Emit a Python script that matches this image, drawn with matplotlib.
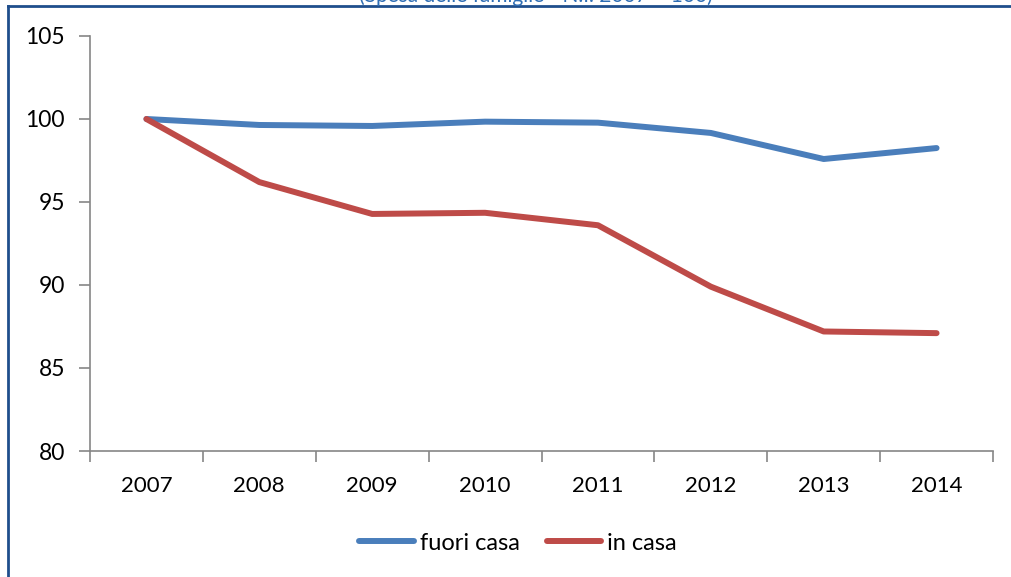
import matplotlib
matplotlib.use("Agg")
import matplotlib.pyplot as plt
from matplotlib.lines import Line2D

years = ["2007", "2008", "2009", "2010", "2011", "2012", "2013", "2014"]
fuori_casa = [100.0, 99.64, 99.58, 99.84, 99.78, 99.16, 97.59, 98.25]
in_casa = [100.0, 96.2, 94.28, 94.35, 93.6, 89.9, 87.2, 87.1]
y_ticks = [80, 85, 90, 95, 100, 105]
title = "(Spesa delle famiglie - N.I. 2007 = 100)"

plt.rcParams['font.family'] = ['Lato', 'DejaVu Sans']

W, H = 1011, 577
fig = plt.figure(figsize=(W / 100, H / 100), dpi=100)
ax = fig.add_axes([90 / W, 1 - 451 / H, (993 - 90) / W, (451 - 36) / H])

blue = "#4A7EBB"
red = "#BE4B48"
xs = [i + 0.5 for i in range(len(years))]
ax.plot(xs, fuori_casa, color=blue, lw=4.3, solid_capstyle='round', solid_joinstyle='round', label="fuori casa")
ax.plot(xs, in_casa, color=red, lw=4.3, solid_capstyle='round', solid_joinstyle='round', label="in casa")

ax.set_xlim(0, len(years))
ax.set_ylim(80, 105)
ax.set_yticks(y_ticks)
ax.set_yticklabels([str(v) for v in y_ticks], fontsize=16.5)
ax.set_xticks(range(len(years) + 1))
ax.set_xticklabels([])
ax.set_xticks(xs, minor=True)
ax.set_xticklabels(years, minor=True, fontsize=16)
ax.tick_params(axis='x', which='minor', length=0, pad=18)
ax.tick_params(axis='x', which='major', length=8, color="#868686", width=1.2, direction='out')
ax.tick_params(axis='y', length=8, color="#868686", width=1.2, direction='out', pad=10)
for s in ['top', 'right']:
    ax.spines[s].set_visible(False)
for s in ['left', 'bottom']:
    ax.spines[s].set_color("#868686")
    ax.spines[s].set_linewidth(1.2)

leg = ax.legend(loc='center', bbox_to_anchor=((518 - 90) / 903, (451 - 543) / (451 - 36)),
                ncol=2, frameon=False, fontsize=17, handlelength=2.3, handletextpad=0.25,
                columnspacing=1.15)

# frame lines and clipped title
fig.add_artist(Line2D([8 / W, 1], [1 - 6 / H, 1 - 6 / H], color="#1F4E8C", lw=2))
fig.add_artist(Line2D([8 / W, 8 / W], [0, 1 - 6 / H], color="#1F4E8C", lw=2))
fig.text(536 / W, 1 - 2 / H, title, ha='center', va='baseline', fontsize=15, color="#2E6DB4")

fig.savefig("out.png", dpi=100)
